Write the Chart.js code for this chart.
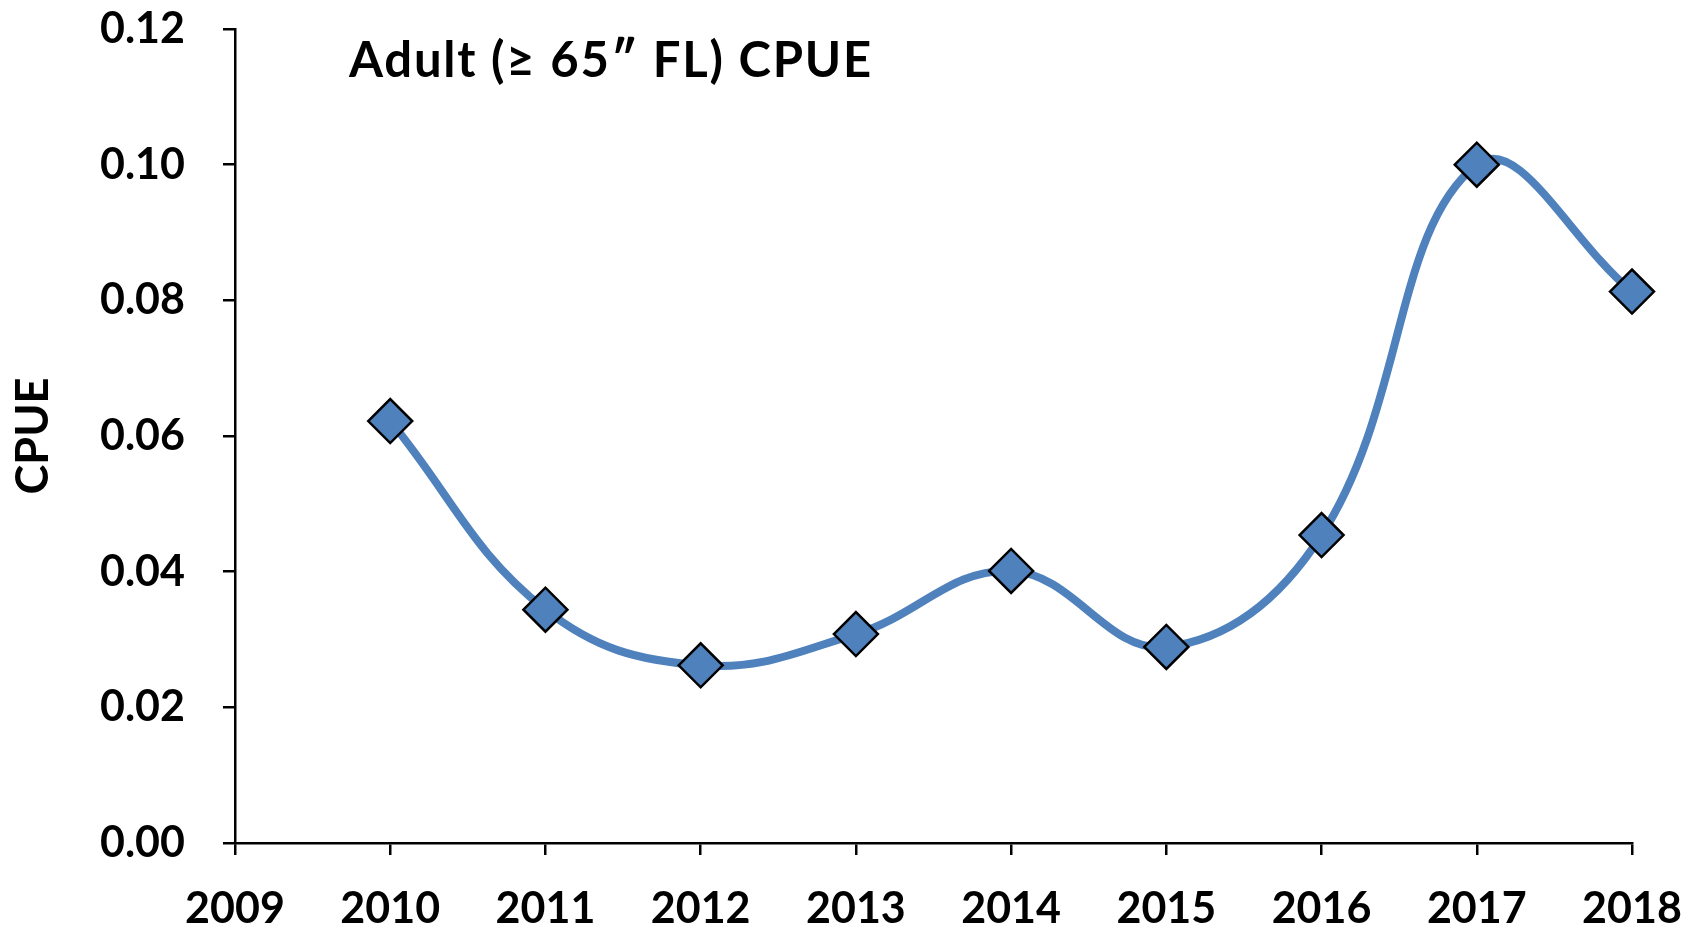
<!DOCTYPE html>
<html>
<head>
<meta charset="utf-8">
<script src="https://cdn.jsdelivr.net/npm/chart.js@4/dist/chart.umd.min.js"></script>
<style>
    html, body { margin: 0; padding: 0; background: #fff; }
    #wrap { position: relative; width: 1698px; height: 933px; }
    #cpueTitle {
        position: absolute; left: 349px; top: 29px;
        font: bold 49px Lato, "Open Sans", sans-serif; letter-spacing: 1.8px; color: #000; white-space: nowrap;
    }
</style>
</head>
<body>
<div id="wrap">
    <canvas id="cpueChart" width="1698" height="933"></canvas>
    <div id="cpueTitle">Adult (≥ 65″ FL) CPUE</div>
</div>
<script>
var years = [2010, 2011, 2012, 2013, 2014, 2015, 2016, 2017, 2018];
var cpueValues = [0.0622, 0.0344, 0.0262, 0.0308, 0.0401, 0.0289, 0.0454, 0.1000, 0.0813];
var yTicks = [0, 0.02, 0.04, 0.06, 0.08, 0.10, 0.12];
var xMin = 2009, xMax = 2018;

var tickFont = { family: 'Lato, "Open Sans", sans-serif', size: 43, weight: 'bold' };

var points = years.map(function (y, i) {
    return { x: y, y: cpueValues[i] };
});

new Chart(document.getElementById('cpueChart'), {
    type: 'line',
    data: {
        datasets: [{
            label: 'CPUE',
            data: points,
            borderColor: '#4F81BD',
            borderWidth: 8,
            tension: 0.4,
            clip: false,
            pointStyle: 'rectRot',
            pointRadius: 22,
            pointBackgroundColor: '#4F81BD',
            pointBorderColor: '#000',
            pointBorderWidth: 2.5
        }]
    },
    options: {
        responsive: false,
        animation: false,
        layout: { autoPadding: false, padding: 0 },
        plugins: {
            legend: { display: false },
            tooltip: { enabled: false }
        },
        scales: {
            x: {
                type: 'linear',
                min: xMin,
                max: xMax,
                afterFit: function (scale) {
                    scale.height = 90;
                    scale.paddingLeft = 0;
                    scale.paddingRight = 66;
                },
                afterBuildTicks: function (scale) {
                    var t = [];
                    for (var v = xMin; v <= xMax; v++) t.push({ value: v });
                    scale.ticks = t;
                },
                grid: { display: true, drawOnChartArea: false, color: '#000', lineWidth: 2.5, tickLength: 12 },
                border: { color: '#000', width: 2.5 },
                ticks: {
                    color: '#000', font: tickFont, padding: 28, maxRotation: 0, autoSkip: false,
                    callback: function (v) { return String(v); }
                }
            },
            y: {
                min: 0,
                max: 0.12,
                afterFit: function (scale) {
                    scale.width = 235;
                    scale.paddingTop = 29;
                    scale.paddingBottom = 0;
                },
                afterBuildTicks: function (scale) {
                    scale.ticks = yTicks.map(function (v) { return { value: v }; });
                },
                grid: { display: true, drawOnChartArea: false, color: '#000', lineWidth: 2.5, tickLength: 12 },
                border: { color: '#000', width: 2.5 },
                ticks: {
                    color: '#000', font: tickFont, padding: 38,
                    callback: function (v) { return v.toFixed(2); }
                },
                title: {
                    display: true, text: 'CPUE', color: '#000',
                    font: { family: 'Lato, "Open Sans", sans-serif', size: 45, weight: 'bold' },
                    padding: { top: 6, bottom: 0 }
                }
            }
        }
    }
});
</script>
</body>
</html>
